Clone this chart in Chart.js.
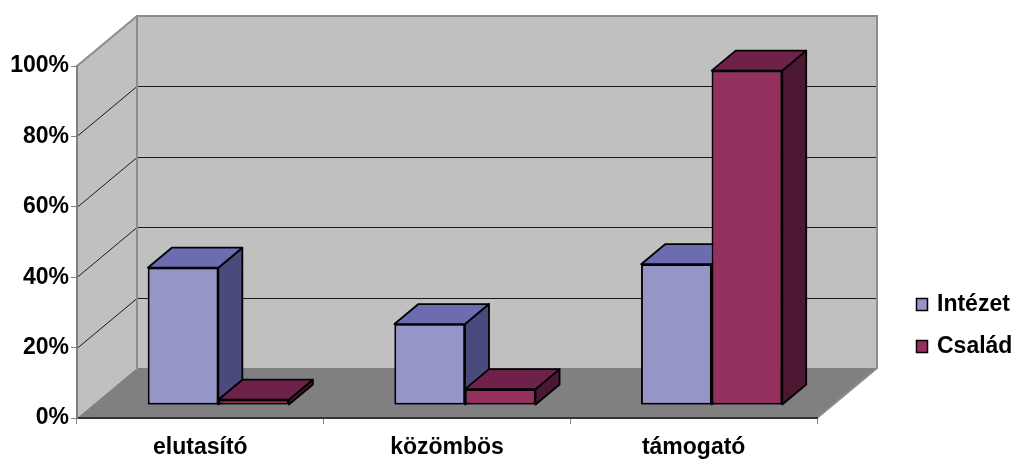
<!DOCTYPE html>
<html>
<head>
<meta charset="utf-8">
<title>Intézet / Család</title>
<script src="https://cdn.jsdelivr.net/npm/chart.js@4.4.1/dist/chart.umd.min.js"></script>
<style>
  html, body { margin: 0; padding: 0; background: #ffffff; }
  #wrap { width: 1020px; height: 459px; }
  canvas { display: block; }
</style>
</head>
<body>
<div id="wrap"><canvas id="chart" width="1020" height="459"></canvas></div>
<script>
// ---- data ----
const categories = ['elutasító', 'közömbös', 'támogató'];
const seriesNames = ['Intézet', 'Család'];
const intezetValues = [39, 23, 40];
const csaladValues = [1.5, 4.5, 95];
const yTickValues = [0, 20, 40, 60, 80, 100];

// ---- look ----
const FONT = "'Liberation Sans', Arial, Helvetica, sans-serif";
const faceColors = {
  'Intézet': { front: '#9595c8', top: '#6c6cb1', side: '#4a4a7c' },
  'Család':  { front: '#93305e', top: '#6e2249', side: '#4b1731' }
};
const WALL_DEPTH = { x: 60, y: -50 };   // offset from front plane to back wall
const BAR_SHIFT  = { x: 18, y: -13 };   // bar front faces sit a little behind the front edge
const BAR_DEPTH  = { x: 24, y: -20 };   // thickness of each bar
const EDGE = 1.8;                       // outline width of the bars

Chart.defaults.font.family = FONT;

function poly(ctx, pts) {
  ctx.beginPath();
  ctx.moveTo(pts[0][0], pts[0][1]);
  for (let i = 1; i < pts.length; i++) ctx.lineTo(pts[i][0], pts[i][1]);
  ctx.closePath();
}

// walls, floor, gridlines, bar tops/sides and the legend
const roomPlugin = {
  id: 'room',
  beforeDraw(chart) {
    const { ctx, chartArea: a, scales } = chart;
    const y = scales.y;
    const dx = WALL_DEPTH.x, dy = WALL_DEPTH.y;
    const y0 = y.getPixelForValue(0);
    const yTop = y.getPixelForValue(yTickValues[yTickValues.length - 1]);
    ctx.save();
    ctx.lineJoin = 'miter';

    // back wall
    poly(ctx, [[a.left + dx, yTop + dy], [a.right + dx, yTop + dy], [a.right + dx, y0 + dy], [a.left + dx, y0 + dy]]);
    ctx.fillStyle = '#c0c0c0';
    ctx.fill();

    // side wall
    poly(ctx, [[a.left, yTop], [a.left + dx, yTop + dy], [a.left + dx, y0 + dy], [a.left, y0]]);
    ctx.fillStyle = '#c0c0c0';
    ctx.fill();

    // floor
    poly(ctx, [[a.left, y0], [a.right, y0], [a.right + dx, y0 + dy], [a.left + dx, y0 + dy]]);
    ctx.fillStyle = '#808080';
    ctx.fill();

    // gridlines: along the side wall, then across the back wall
    ctx.strokeStyle = '#1a1a1a';
    ctx.lineWidth = 1;
    yTickValues.forEach(v => {
      if (v === 0 || v === yTickValues[yTickValues.length - 1]) return;
      const py = Math.round(y.getPixelForValue(v)) + 0.5;
      ctx.beginPath();
      ctx.moveTo(a.left, py);
      ctx.lineTo(a.left + dx, py + dy);
      ctx.lineTo(a.right + dx, py + dy);
      ctx.stroke();
    });

    // wall outlines
    ctx.strokeStyle = '#8c8c8c';
    ctx.lineWidth = 2;
    ctx.beginPath();
    ctx.moveTo(a.left, yTop);
    ctx.lineTo(a.left + dx, yTop + dy);
    ctx.lineTo(a.right + dx, yTop + dy);
    ctx.lineTo(a.right + dx, y0 + dy);
    ctx.lineTo(a.right, y0);
    ctx.moveTo(a.left + dx, yTop + dy);
    ctx.lineTo(a.left + dx, y0 + dy);
    ctx.stroke();
    ctx.restore();
  },
  beforeDatasetsDraw(chart) {
    chart.ctx.save();
    chart.ctx.translate(BAR_SHIFT.x, BAR_SHIFT.y);
  },
  afterDatasetsDraw(chart) {
    const { ctx } = chart;
    // series in their own order, so each later bar's front covers the earlier bar's side
    chart.data.datasets.forEach((ds, i) => {
      const meta = chart.getDatasetMeta(i);
      const colors = faceColors[ds.label];
      meta.data.forEach(bar => {
        bar.draw(ctx);
        const { x, y, base, width } = bar.getProps(['x', 'y', 'base', 'width'], true);
        const L = x - width / 2, R = x + width / 2;
        const bx = BAR_DEPTH.x, by = BAR_DEPTH.y;
        ctx.save();
        ctx.lineJoin = 'round';
        ctx.lineWidth = EDGE;
        ctx.strokeStyle = '#000000';
        // side face
        poly(ctx, [[R, y], [R + bx, y + by], [R + bx, base + by], [R, base]]);
        ctx.fillStyle = colors.side;
        ctx.fill();
        ctx.stroke();
        // top face
        poly(ctx, [[L, y], [R, y], [R + bx, y + by], [L + bx, y + by]]);
        ctx.fillStyle = colors.top;
        ctx.fill();
        ctx.stroke();
        ctx.restore();
      });
    });
    ctx.restore();
  },
  afterDraw(chart) {
    // legend on the right
    const { ctx } = chart;
    ctx.save();
    ctx.font = 'bold 23px ' + FONT;
    ctx.textBaseline = 'alphabetic';
    ctx.textAlign = 'left';
    chart.data.datasets.forEach((ds, i) => {
      const top = 298 + i * 42;
      ctx.fillStyle = ds.backgroundColor;
      ctx.fillRect(916.5, top + 0.5, 11, 12);
      ctx.strokeStyle = '#000000';
      ctx.lineWidth = 1.5;
      ctx.strokeRect(916.5, top + 0.5, 11, 12);
      ctx.fillStyle = '#000000';
      ctx.fillText(ds.label, 937, top + 12.5);
    });
    ctx.restore();
  }
};

const seriesValues = [intezetValues, csaladValues];

new Chart(document.getElementById('chart'), {
  type: 'bar',
  data: {
    labels: categories,
    datasets: seriesNames.map((name, i) => ({
      label: name,
      data: seriesValues[i],
      backgroundColor: faceColors[name].front,
      borderColor: '#000000',
      borderWidth: EDGE,
      borderSkipped: false,
      barPercentage: 1,
      categoryPercentage: 0.572,
      clip: false
    }))
  },
  options: {
    responsive: false,
    maintainAspectRatio: false,
    devicePixelRatio: 1,
    animation: false,
    layout: { padding: { left: 0, top: 66, right: 203, bottom: 0 } },
    plugins: {
      legend: { display: false },
      tooltip: { enabled: false },
      title: { display: false }
    },
    scales: {
      x: {
        afterFit(scale) { scale.height = 41; },
        grid: { display: true, drawOnChartArea: false, drawTicks: true, tickLength: 6, color: '#808080', lineWidth: 1, offset: true },
        border: { display: true, color: '#333333', width: 2 },
        ticks: { color: '#000000', font: { size: 23, weight: 'bold' }, padding: 10, maxRotation: 0 }
      },
      y: {
        min: 0,
        max: 100,
        afterFit(scale) { scale.width = 77; },
        afterBuildTicks(scale) { scale.ticks = yTickValues.map(v => ({ value: v })); },
        grid: { display: true, drawOnChartArea: false, drawTicks: true, tickLength: 6, color: '#808080', lineWidth: 1 },
        border: { display: true, color: '#808080', width: 2 },
        ticks: { color: '#000000', font: { size: 23, weight: 'bold' }, padding: 2, callback: v => v + '%' }
      }
    }
  },
  plugins: [roomPlugin]
});
</script>
</body>
</html>
